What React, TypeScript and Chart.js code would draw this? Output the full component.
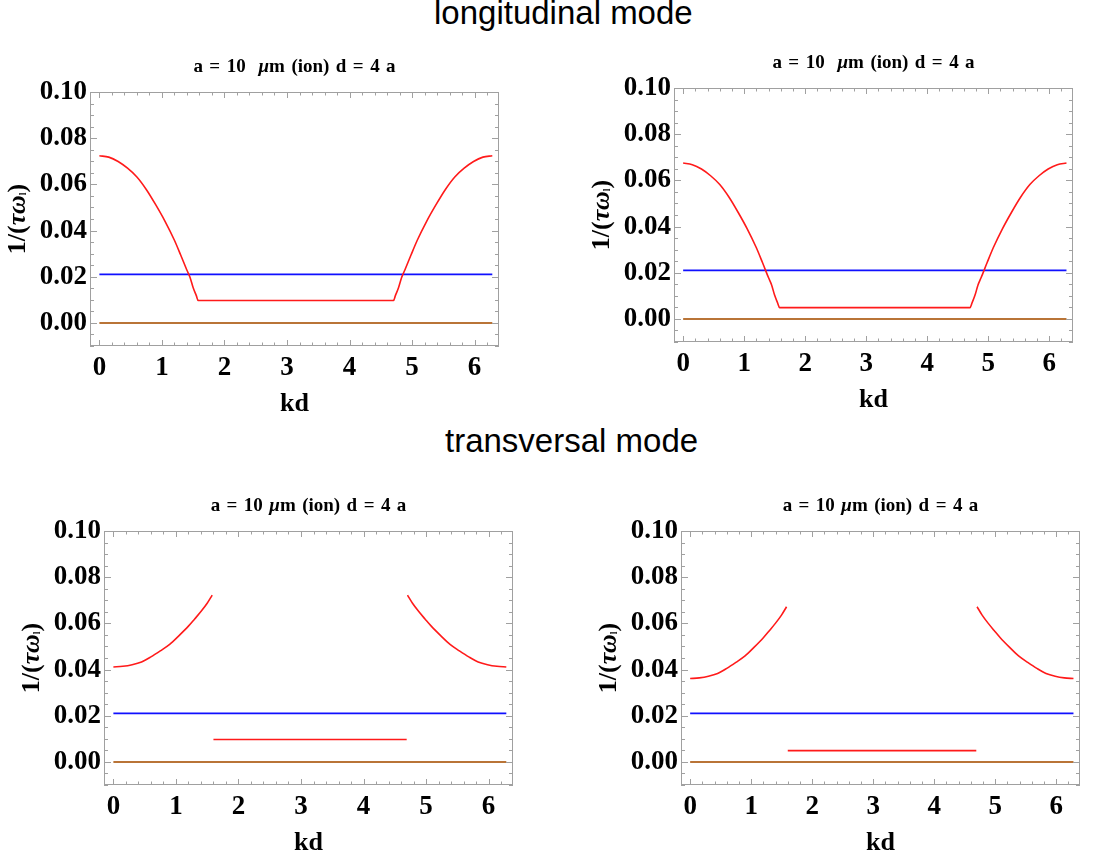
import React, { useEffect, useRef } from "react";
import { Chart, registerables } from "chart.js";

Chart.register(...registerables);

// ---------- data ----------
// longitudinal mode, kd sample points (0 .. 2π)
const kdLong = [
  0, 0.15, 0.3, 0.45, 0.6, 0.75, 0.9, 1.05, 1.2, 1.3, 1.4, 1.45, 1.5, 1.55, 1.58,
  4.703, 4.733, 4.783, 4.833, 4.883, 4.983, 5.083, 5.233, 5.383, 5.533, 5.683, 5.833, 5.983, 6.133, 6.283,
];
const redLongLeft = [
  0.0724, 0.0718, 0.0699, 0.067, 0.0632, 0.0578, 0.0512, 0.044, 0.0358, 0.0294, 0.0228, 0.0197, 0.0152, 0.0118, 0.0097,
  0.0097, 0.0118, 0.0152, 0.0197, 0.0228, 0.0294, 0.0358, 0.044, 0.0512, 0.0578, 0.0632, 0.067, 0.0699, 0.0718, 0.0724,
];
const redLongRight = [
  0.0675, 0.0668, 0.0649, 0.062, 0.0582, 0.0528, 0.0462, 0.039, 0.0308, 0.0244, 0.0178, 0.0147, 0.0102, 0.0068, 0.0049,
  0.0049, 0.0068, 0.0102, 0.0147, 0.0178, 0.0244, 0.0308, 0.039, 0.0462, 0.0528, 0.0582, 0.062, 0.0649, 0.0668, 0.0675,
];

// transversal mode: two arcs and a flat segment
const kdArcLeft = [0, 0.15, 0.3, 0.45, 0.6, 0.75, 0.9, 1.05, 1.2, 1.3, 1.4, 1.5, 1.58];
const kdArcRight = [4.703, 4.783, 4.883, 4.983, 5.083, 5.233, 5.383, 5.533, 5.683, 5.833, 5.983, 6.133, 6.283];
const kdFlat = [1.6, 4.69];
const redTransLeftA = [0.0411, 0.0414, 0.0421, 0.0433, 0.0455, 0.0481, 0.0509, 0.0547, 0.0588, 0.0619, 0.0651, 0.0687, 0.0722];
const redTransLeftB = [0.0722, 0.0687, 0.0651, 0.0619, 0.0588, 0.0547, 0.0509, 0.0481, 0.0455, 0.0433, 0.0421, 0.0414, 0.0411];
const redTransFlatLeft = [0.0097, 0.0097];
const redTransRightA = [0.0361, 0.0364, 0.0371, 0.0383, 0.0405, 0.0431, 0.0459, 0.0497, 0.0538, 0.0569, 0.0601, 0.0637, 0.0672];
const redTransRightB = [0.0672, 0.0637, 0.0601, 0.0569, 0.0538, 0.0497, 0.0459, 0.0431, 0.0405, 0.0383, 0.0371, 0.0364, 0.0361];
const redTransFlatRight = [0.0049, 0.0049];

// reference lines
const kdSpan = [0, 6.283];
const blueLevel = [0.021, 0.021];
const zeroLevel = [0, 0];

// axes
const xTickVals = [0, 1, 2, 3, 4, 5, 6];
const yTickVals = [0, 0.02, 0.04, 0.06, 0.08, 0.1];
const X_MIN = -0.15;
const X_MAX = 6.39;
const Y_MIN = -0.01;
const Y_MAX = 0.1;

const sectionTitles = ["longitudinal mode", "transversal mode"];
const panelTitleTop = ["a = 10  ", "\u03bc", "m (ion) d = 4 a"];
const panelTitleBottom = ["a = 10 ", "\u03bc", "m (ion) d = 4 a"];
const xAxisTitle = "kd";
const yAxisTitleParts = ["1/(", "\u03c4\u03c9", "l", ")"];

// ---------- styles ----------
const SERIF = '"Liberation Serif", "Times New Roman", serif';
const SANS = '"Liberation Sans", Arial, sans-serif';
const RED = "#ff1a1a";
const BLUE = "#1010ff";
const BROWN = "#b97437";
const FRAME = "#a0a0a0";

type Series = { xs: number[]; ys: number[]; color: string; width: number };

const makeFramePlugin = (title: string[]) => ({
  id: "mmaFrame",
  afterDraw(chart: any) {
    const { ctx, chartArea: a, scales } = chart;
    const xs = scales.x;
    const ys = scales.y;
    ctx.save();
    ctx.strokeStyle = FRAME;
    ctx.lineWidth = 1;
    ctx.strokeRect(Math.round(a.left) + 0.5, Math.round(a.top) + 0.5, Math.round(a.right - a.left) - 1, Math.round(a.bottom - a.top) - 1);
    ctx.beginPath();
    // x ticks: majors at integers, minors every 0.2
    for (let i = 0; i <= 31; i++) {
      const v = i * 0.2;
      if (v < X_MIN || v > X_MAX) continue;
      const major = i % 5 === 0;
      const len = major ? 6 : 3.5;
      const p = Math.round(xs.getPixelForValue(v)) + 0.5;
      ctx.moveTo(p, a.bottom);
      ctx.lineTo(p, a.bottom - len);
      ctx.moveTo(p, a.top);
      ctx.lineTo(p, a.top + len);
    }
    // y ticks: majors every 0.02, minors every 0.005
    for (let i = -2; i <= 20; i++) {
      const v = i * 0.005;
      if (v < Y_MIN - 1e-9 || v > Y_MAX + 1e-9) continue;
      const major = i % 4 === 0;
      const len = major ? 7 : 4;
      const p = Math.round(ys.getPixelForValue(v)) + 0.5;
      ctx.moveTo(a.left, p);
      ctx.lineTo(a.left + len, p);
      ctx.moveTo(a.right, p);
      ctx.lineTo(a.right - len, p);
    }
    ctx.stroke();

    ctx.fillStyle = "#000";
    ctx.textAlign = "left";

    // panel title
    const fonts = [`bold 19px ${SERIF}`, `italic bold 19px ${SERIF}`, `bold 19px ${SERIF}`];
    (ctx as any).wordSpacing = "1.7px";
    let total = 0;
    const widths = title.map((t, i) => {
      ctx.font = fonts[i];
      const w = ctx.measureText(t).width;
      total += w;
      return w;
    });
    let x = (a.left + a.right) / 2 - total / 2;
    const y = a.top - 20;
    ctx.textBaseline = "alphabetic";
    title.forEach((t, i) => {
      ctx.font = fonts[i];
      ctx.fillText(t, x, y);
      x += widths[i];
    });
    (ctx as any).wordSpacing = "0px";

    // rotated y-axis title: 1/(τω_l)
    const yFonts = [`bold 26px ${SERIF}`, `italic bold 26px ${SERIF}`, `bold 10px ${SERIF}`, `bold 26px ${SERIF}`];
    const yShift = [0, 0, 5, 0];
    let yTotal = 0;
    const yWidths = yAxisTitleParts.map((t, i) => {
      ctx.font = yFonts[i];
      const w = ctx.measureText(t).width;
      yTotal += w;
      return w;
    });
    ctx.translate(a.left - 72, (a.top + a.bottom) / 2);
    ctx.rotate(-Math.PI / 2);
    let tx = -yTotal / 2;
    ctx.textBaseline = "middle";
    yAxisTitleParts.forEach((t, i) => {
      ctx.font = yFonts[i];
      ctx.fillText(t, tx, yShift[i]);
      tx += yWidths[i];
    });
    ctx.restore();
  },
});

type PanelProps = {
  frameL: number;
  frameR: number;
  frameT: number;
  frameB: number;
  title: string[];
  series: Series[];
};

const Y_AXIS_W = 90;
const PAD_TOP = 45;
const PAD_RIGHT = 15;
const X_AXIS_H = 78;

function Panel({ frameL, frameR, frameT, frameB, title, series }: PanelProps) {
  const ref = useRef<HTMLCanvasElement>(null);
  useEffect(() => {
    if (!ref.current) return;
    const datasets = series.map((s) => ({
      data: s.xs.map((x, i) => ({ x, y: s.ys[i] })),
      borderColor: s.color,
      backgroundColor: s.color,
      borderWidth: s.width,
      pointRadius: 0,
      pointHoverRadius: 0,
      showLine: true,
      fill: false,
      cubicInterpolationMode: "monotone",
    }));
    const chart = new Chart(ref.current, {
      type: "scatter",
      data: { datasets },
      options: {
        animation: false,
        responsive: true,
        maintainAspectRatio: false,
        events: [],
        layout: { padding: { top: PAD_TOP, right: PAD_RIGHT, left: 0, bottom: 0 } },
        plugins: {
          legend: { display: false },
          tooltip: { enabled: false },
          title: { display: false },
        },
        scales: {
          x: {
            type: "linear",
            min: X_MIN,
            max: X_MAX,
            grid: { display: false, drawTicks: false },
            border: { display: false },
            afterBuildTicks: (s: any) => {
              s.ticks = xTickVals.map((v) => ({ value: v }));
            },
            afterFit: (s: any) => {
              s.height = X_AXIS_H;
            },
            ticks: {
              color: "#000",
              padding: 6,
              maxRotation: 0,
              autoSkip: false,
              font: { family: SERIF, size: 27, weight: "bold" },
              callback: (v: any) => String(v),
            },
            title: {
              display: true,
              text: xAxisTitle,
              color: "#000",
              font: { family: SERIF, size: 26, weight: "bold" },
              padding: { top: 0, bottom: 4 },
            },
          },
          y: {
            type: "linear",
            min: Y_MIN,
            max: Y_MAX,
            grid: { display: false, drawTicks: false },
            border: { display: false },
            afterBuildTicks: (s: any) => {
              s.ticks = yTickVals.map((v) => ({ value: v }));
            },
            afterFit: (s: any) => {
              s.width = Y_AXIS_W;
            },
            ticks: {
              color: "#000",
              padding: 3,
              autoSkip: false,
              font: { family: SERIF, size: 27, weight: "bold" },
              callback: (v: any) => Number(v).toFixed(2),
            },
          },
        },
      } as any,
      plugins: [makeFramePlugin(title)],
    });
    return () => chart.destroy();
  }, []);

  const left = frameL - Y_AXIS_W;
  const top = frameT - PAD_TOP;
  const width = frameR + PAD_RIGHT - left;
  const height = frameB + X_AXIS_H - top;
  return (
    <div style={{ position: "absolute", left, top, width, height }}>
      <canvas ref={ref} />
    </div>
  );
}

const refLines = (): Series[] => [
  { xs: kdSpan, ys: blueLevel, color: BLUE, width: 1.6 },
  { xs: kdSpan, ys: zeroLevel, color: BROWN, width: 2 },
];

export default function App() {
  const headingStyle: React.CSSProperties = {
    position: "absolute",
    fontFamily: SANS,
    fontSize: 33,
    lineHeight: "33px",
    color: "#000",
    whiteSpace: "nowrap",
  };
  return (
    <div
      style={{
        position: "absolute",
        left: 0,
        top: 0,
        width: 1095,
        height: 860,
        overflow: "hidden",
        background: "#fff",
      }}
    >
      <div style={{ ...headingStyle, left: 434, top: -4 }}>{sectionTitles[0]}</div>
      <div style={{ ...headingStyle, left: 445, top: 424 }}>{sectionTitles[1]}</div>

      <Panel
        frameL={90}
        frameR={499}
        frameT={92}
        frameB={346}
        title={panelTitleTop}
        series={[{ xs: kdLong, ys: redLongLeft, color: RED, width: 1.6 }, ...refLines()]}
      />
      <Panel
        frameL={674}
        frameR={1073}
        frameT={88}
        frameB={342}
        title={panelTitleTop}
        series={[{ xs: kdLong, ys: redLongRight, color: RED, width: 1.6 }, ...refLines()]}
      />
      <Panel
        frameL={104}
        frameR={513}
        frameT={531}
        frameB={785}
        title={panelTitleBottom}
        series={[
          { xs: kdArcLeft, ys: redTransLeftA, color: RED, width: 1.6 },
          { xs: kdFlat, ys: redTransFlatLeft, color: RED, width: 1.6 },
          { xs: kdArcRight, ys: redTransLeftB, color: RED, width: 1.6 },
          ...refLines(),
        ]}
      />
      <Panel
        frameL={681}
        frameR={1080}
        frameT={531}
        frameB={785}
        title={panelTitleBottom}
        series={[
          { xs: kdArcLeft, ys: redTransRightA, color: RED, width: 1.6 },
          { xs: kdFlat, ys: redTransFlatRight, color: RED, width: 1.6 },
          { xs: kdArcRight, ys: redTransRightB, color: RED, width: 1.6 },
          ...refLines(),
        ]}
      />
    </div>
  );
}
